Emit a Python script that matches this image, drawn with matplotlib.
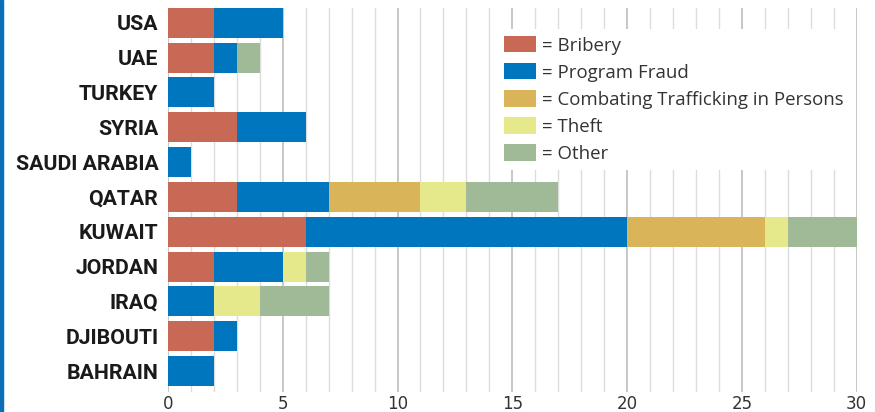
import matplotlib.pyplot as plt
from matplotlib.patches import Rectangle, Patch
import numpy as np

countries = ['USA', 'UAE', 'TURKEY', 'SYRIA', 'SAUDI ARABIA', 'QATAR',
             'KUWAIT', 'JORDAN', 'IRAQ', 'DJIBOUTI', 'BAHRAIN']
bribery = [2, 2, 0, 3, 0, 3, 6, 2, 0, 2, 0]
program_fraud = [3, 1, 2, 3, 1, 4, 14, 3, 2, 1, 2]
trafficking = [0, 0, 0, 0, 0, 4, 6, 0, 0, 0, 0]
theft = [0, 0, 0, 0, 0, 2, 1, 1, 2, 0, 0]
other = [0, 1, 0, 0, 0, 4, 3, 1, 3, 0, 0]

series = [('= Bribery', bribery, '#C86955'),
          ('= Program Fraud', program_fraud, '#0076BE'),
          ('= Combating Trafficking in Persons', trafficking, '#D9B458'),
          ('= Theft', theft, '#E6E88C'),
          ('= Other', other, '#A0B996')]

fig = plt.figure(figsize=(8.75, 4.12), dpi=100)
ax = fig.add_axes([0.192, 0.0485, 0.787, 0.9325])

y = np.arange(len(countries))
left = np.zeros(len(countries))
handles = []
for label, vals, col in series:
    vals = np.array(vals, dtype=float)
    ax.barh(y, vals, left=left, height=0.86, color=col, linewidth=0, zorder=3)
    left += vals
    handles.append(Patch(facecolor=col, edgecolor='none', label=label))

ax.set_xlim(0, 30)
ax.set_ylim(10.6, -0.43)
ax.set_xticks(range(0, 31, 5))
ax.set_xticks(range(0, 31), minor=True)
ax.grid(axis='x', which='major', color='#b8b8b8', linewidth=1.1, zorder=0)
ax.grid(axis='x', which='minor', color='#dcdcdc', linewidth=1.0, zorder=0)
ax.set_yticks(y)
ax.set_yticklabels(countries, fontsize=15.3, fontweight='bold', family='Roboto',
                   color='#1a1a1a')
ax.tick_params(axis='both', which='both', length=0)
ax.tick_params(axis='y', pad=7)
ax.tick_params(axis='x', pad=2, labelsize=12, labelcolor='#333333')
for s in ax.spines.values():
    s.set_visible(False)

leg = ax.legend(handles=handles, loc='upper left', bbox_to_anchor=(0.4775, 0.946),
                frameon=True, fancybox=False, framealpha=1, facecolor='white',
                edgecolor='none', prop={'family': 'Open Sans', 'size': 13.4},
                handlelength=1.72, handleheight=0.97, handletextpad=0.3,
                labelspacing=0.46, borderpad=0.4, borderaxespad=0)
for t in leg.get_texts():
    t.set_color('#333333')
leg.set_zorder(5)

# blue stripe at the left edge
fig.patches.append(Rectangle((0, 0), 3 / 875, 1, transform=fig.transFigure,
                             color='#0a6fb5', zorder=10))

fig.savefig('out.png', dpi=100)
